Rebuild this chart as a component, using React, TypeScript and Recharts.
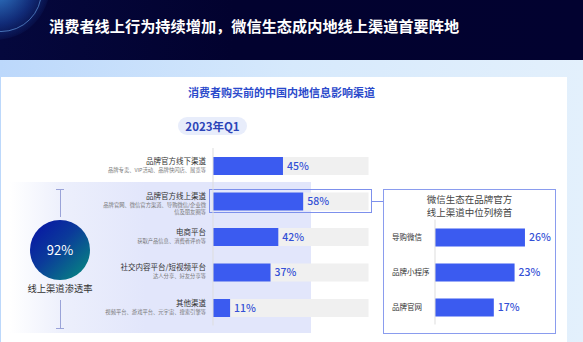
import React from 'react';
import { BarChart, Bar, XAxis, YAxis, LabelList } from 'recharts';

const channels = ['品牌官方线下渠道', '品牌官方线上渠道', '电商平台', '社交内容平台/短视频平台', '其他渠道'];
const channelNotes = [
  ['品牌专卖、VIP活动、品牌快闪店、展览等'],
  ['品牌官网、微信官方渠道、导购微信/企业微', '信及朋友圈等'],
  ['获取产品信息、消费者评价等'],
  ['达人分享、好友分享等'],
  ['视频平台、游戏平台、元宇宙、搜索引擎等'],
];
const channelShare = [45, 58, 42, 37, 11];

const wechatChannels = ['导购微信', '品牌小程序', '品牌官网'];
const wechatShare = [26, 23, 17];

const onlinePenetration = 92;

const mainData = channels.map((name, i) => ({ name, value: channelShare[i], notes: channelNotes[i] }));
const wechatData = wechatChannels.map((name, i) => ({ name, value: wechatShare[i] }));

const FONT = '"Noto Sans CJK SC", "Noto Sans", sans-serif';
const BLUE = '#3b5bf0';
const LABEL_BLUE = '#3450d6';

const MainTick = (props: any) => {
  const { x, y, payload, index } = props;
  const notes = channelNotes[index] || [];
  return (
    <g>
      <text x={x} y={y - 2} textAnchor="end" fontSize={7.5} fill="#333" fontFamily={FONT}>
        {payload.value}
      </text>
      {notes.map((n: string, k: number) => (
        <text key={k} x={x} y={y + 6 + k * 6.5} textAnchor="end" fontSize={5.3} fill="#777" fontFamily={FONT}>
          {n}
        </text>
      ))}
    </g>
  );
};

const WechatTick = (props: any) => {
  const { y, payload } = props;
  return (
    <text x={392} y={y + 3} textAnchor="start" fontSize={7.5} fill="#333" fontFamily={FONT}>
      {payload.value}
    </text>
  );
};

export default function App() {
  return (
    <div style={{ position: 'absolute', left: 0, top: 0, width: 583, height: 342, overflow: 'hidden', background: '#dcecfb', fontFamily: FONT }}>
      {/* header */}
      <div style={{ position: 'absolute', left: 0, top: 0, width: 583, height: 60, background: 'linear-gradient(90deg, #05083d 0%, #02022f 40%, #020230 100%)' }} />
      <div style={{ position: 'absolute', left: -60, top: -70, width: 110, height: 110, borderRadius: '50%', background: 'radial-gradient(circle, rgba(60,150,230,0.9) 0%, rgba(30,80,180,0.5) 50%, rgba(5,8,61,0) 75%)' }} />
      <div style={{ position: 'absolute', left: -40, top: -50, width: 80, height: 80, borderRadius: '50%', border: '1px solid rgba(110,170,240,0.6)' }} />
      <div style={{ position: 'absolute', left: 49, top: 12, color: '#fff', fontSize: 15.2, fontWeight: 700, lineHeight: '26px', whiteSpace: 'nowrap' }}>
        消费者线上行为持续增加，微信生态成内地线上渠道首要阵地
      </div>
      {/* band */}
      <div style={{ position: 'absolute', left: 0, top: 60, width: 583, height: 282, background: 'linear-gradient(90deg, #bcd8fb 0%, #d6e9fc 50%, #e3f0fc 100%)' }} />
      {/* card */}
      <div style={{ position: 'absolute', left: 1, top: 77, width: 566, height: 265, background: '#fff' }} />
      {/* card title */}
      <div style={{ position: 'absolute', left: 188, top: 84, color: '#2b4acb', fontSize: 11, fontWeight: 700, lineHeight: '16px', whiteSpace: 'nowrap' }}>
        消费者购买前的中国内地信息影响渠道
      </div>
      <div style={{ position: 'absolute', left: 178, top: 117, width: 69, height: 18, borderRadius: 9, background: '#e8edfb', color: '#2c44b8', fontSize: 11.5, fontWeight: 700, lineHeight: '18px', textAlign: 'center' }}>
        2023年Q1
      </div>
      {/* highlight panel */}
      <div style={{ position: 'absolute', left: 10, top: 182, width: 301, height: 151, background: 'linear-gradient(90deg, #ffffff 0%, #eceffc 18%, #e2e6fb 45%, #e2e6fb 100%)' }} />
      {/* penetration circle */}
      <div style={{ position: 'absolute', left: 59.5, top: 189, width: 1, height: 28, background: '#9aa3d8' }} />
      <div style={{ position: 'absolute', left: 56, top: 189, width: 8, height: 1, background: '#9aa3d8' }} />
      <div style={{ position: 'absolute', left: 59.5, top: 300, width: 1, height: 28, background: '#9aa3d8' }} />
      <div style={{ position: 'absolute', left: 56, top: 328, width: 8, height: 1, background: '#9aa3d8' }} />
      <div style={{ position: 'absolute', left: 30, top: 220, width: 60, height: 60, borderRadius: '50%', background: 'linear-gradient(135deg, #0710a6 0%, #0b3a9a 45%, #06917e 100%)', color: '#fff', fontSize: 13, lineHeight: '60px', textAlign: 'center' }}>
        {onlinePenetration}%
      </div>
      <div style={{ position: 'absolute', left: 10, top: 281, width: 100, textAlign: 'center', color: '#333', fontSize: 9.3, lineHeight: '14px' }}>
        线上渠道渗透率
      </div>
      {/* row 2 highlight outline and connector */}
      <div style={{ position: 'absolute', left: 209, top: 189, width: 163, height: 24, border: '1px solid #7d90ec', boxSizing: 'border-box' }} />
      <div style={{ position: 'absolute', left: 372, top: 201, width: 11, height: 1, background: '#7d90ec' }} />
      {/* right box */}
      <div style={{ position: 'absolute', left: 383, top: 189, width: 173, height: 145, border: '1px solid #8a9cee', boxSizing: 'border-box', background: '#fff' }} />
      <div style={{ position: 'absolute', left: 383, top: 193, width: 173, textAlign: 'center', color: '#444', fontSize: 9.5, lineHeight: '13px' }}>
        微信生态在品牌官方<br />线上渠道中位列榜首
      </div>

      {/* main chart */}
      <div style={{ position: 'absolute', left: 0, top: 0 }}>
        <BarChart width={583} height={342} layout="vertical" data={mainData}
          margin={{ top: 148, bottom: 16.5, left: 0, right: 214.5 }} barCategoryGap={0}>
          <XAxis type="number" domain={[0, 100]} hide />
          <YAxis type="category" dataKey="name" width={213} axisLine={{ stroke: '#dddddd' }} tickLine={false}
            tickSize={5} tickMargin={2} tick={<MainTick />} interval={0} />
          <Bar dataKey="value" fill={BLUE} barSize={18} isAnimationActive={false} background={{ fill: '#f0f0f0' }}>
            <LabelList dataKey="value" position="right" offset={4} formatter={(v: any) => `${v}%`}
              style={{ fill: LABEL_BLUE, fontSize: 10.5, fontWeight: 500, fontFamily: FONT }} />
          </Bar>
        </BarChart>
      </div>

      {/* wechat chart */}
      <div style={{ position: 'absolute', left: 0, top: 0 }}>
        <BarChart width={583} height={342} layout="vertical" data={wechatData}
          margin={{ top: 219.5, bottom: 17.5, left: 383, right: 44.2 }} barCategoryGap={0}>
          <XAxis type="number" domain={[0, 30]} hide />
          <YAxis type="category" dataKey="name" width={52} axisLine={{ stroke: '#dddddd' }} tickLine={false}
            tick={<WechatTick />} interval={0} />
          <Bar dataKey="value" fill={BLUE} barSize={18} isAnimationActive={false}>
            <LabelList dataKey="value" position="right" offset={4} formatter={(v: any) => `${v}%`}
              style={{ fill: LABEL_BLUE, fontSize: 10.5, fontWeight: 500, fontFamily: FONT }} />
          </Bar>
        </BarChart>
      </div>
    </div>
  );
}
